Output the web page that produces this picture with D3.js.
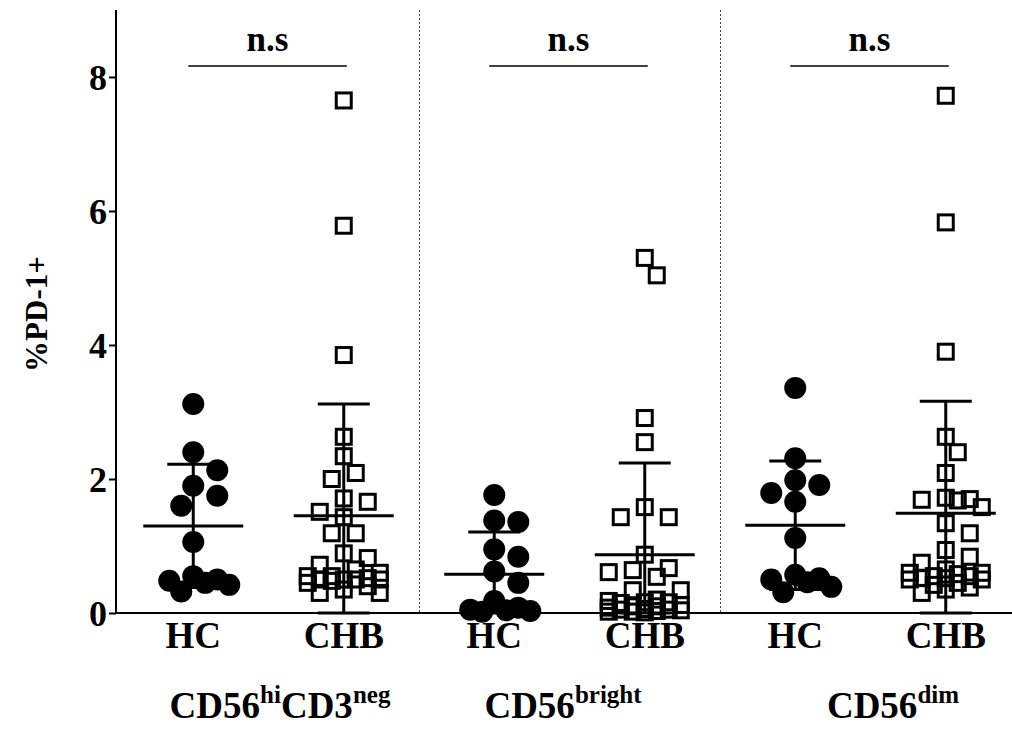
<!DOCTYPE html>
<html>
<head>
<meta charset="utf-8">
<script src="https://cdn.jsdelivr.net/npm/d3@7"></script>
<style>
  body { margin: 0; background: #fff; }
  svg text { font-family: "Liberation Serif", "Times New Roman", serif; font-weight: bold; fill: #000; }
</style>
</head>
<body>
<div id="chart"></div>
<script>
// 1: DATA
const groups = ["HC", "CHB"];
const panels = ["CD56hiCD3neg", "CD56bright", "CD56dim"];

const hcHiNeg  = [3.12, 2.4, 2.13, 1.9, 1.75, 1.6, 1.06, 0.55, 0.5, 0.48, 0.45, 0.42, 0.32];
const chbHiNeg = [7.65, 5.78, 3.85, 2.63, 2.34, 2.09, 2.0, 1.71, 1.66, 1.51, 1.43, 1.19, 1.19,
                  0.89, 0.82, 0.72, 0.65, 0.6, 0.55, 0.55, 0.52, 0.5, 0.5, 0.5, 0.5, 0.48,
                  0.45, 0.4, 0.35, 0.3, 0.3];
const hcBright  = [1.76, 1.38, 1.36, 0.95, 0.84, 0.62, 0.45, 0.18, 0.08, 0.05, 0.03, 0.02, 0.04];
const chbBright = [5.3, 5.04, 2.91, 2.55, 1.58, 1.43, 1.43, 0.87, 0.67, 0.64, 0.61, 0.54, 0.34,
                   0.34, 0.2, 0.18, 0.16, 0.16, 0.15, 0.12, 0.1, 0.1, 0.08, 0.06, 0.05, 0.05,
                   0.04, 0.03, 0.02, 0.02, 0.01];
const hcDim  = [3.36, 2.31, 1.98, 1.91, 1.79, 1.66, 1.12, 0.57, 0.52, 0.5, 0.46, 0.39, 0.31];
const chbDim = [7.72, 5.83, 3.9, 2.63, 2.4, 2.09, 1.72, 1.7, 1.69, 1.68, 1.58, 1.34, 1.19,
                0.94, 0.84, 0.75, 0.65, 0.6, 0.6, 0.58, 0.55, 0.55, 0.52, 0.52, 0.5, 0.5,
                0.45, 0.42, 0.38, 0.35, 0.3];

// mean and SD bars as drawn in the figure, in column order
const meanVals = [1.30, 1.45, 0.58, 0.87, 1.31, 1.49];
const sdVals   = [0.92, 1.67, 0.63, 1.37, 0.96, 1.67];

const yTicks = [0, 2, 4, 6, 8];
const sigLabels = ["n.s", "n.s", "n.s"];

const columns = [hcHiNeg, chbHiNeg, hcBright, chbBright, hcDim, chbDim].map((values, i) => ({
    key: i,
    group: groups[i % 2],
    panel: Math.floor(i / 2),
    values,
    mean: meanVals[i],
    sd: sdVals[i]
}));

// 2: SVG + SCALES
const W = 1012, H = 729;
const svg = d3.select("#chart").append("svg")
    .attr("width", W)
    .attr("height", H);

const axisX = 116, plotTop = 10, plotBottom = 613;

const yScale = d3.scaleLinear()
    .domain([0, 8])
    .range([plotBottom, 77]);

const xScale = d3.scaleBand()
    .domain(columns.map(d => d.key))
    .range([118, 1021]);
const cx = k => xScale(k) + xScale.bandwidth() / 2;

// 3: BEESWARM OFFSETS (simple column scatter like Prism)
function swarm(values, minDist, step, maxSteps) {
    const placed = [];
    const order = values.map((v, i) => i).sort((a, b) => values[b] - values[a]);
    const out = new Array(values.length);
    const nearest = (dx, y) => d3.min(placed, p => Math.hypot(p.dx - dx, p.y - y)) ?? Infinity;
    order.forEach(i => {
        const y = yScale(values[i]);
        let best = 0, bestScore = -1, done = false;
        for (let s = 0; s <= maxSteps && !done; s++) {
            const cands = s === 0 ? [0] : [s * step, -s * step];
            for (const dx of cands) {
                const d = nearest(dx, y);
                if (d >= minDist) { best = dx; done = true; break; }
                if (d > bestScore) { bestScore = d; best = dx; }
            }
        }
        placed.push({ dx: best, y });
        out[i] = { dx: best, y, v: values[i] };
    });
    return out;
}

// 4: AXES
const yAxis = svg.append("g")
    .attr("transform", `translate(${axisX},0)`)
    .call(d3.axisLeft(yScale).tickValues(yTicks).tickSize(7).tickPadding(2));
yAxis.select(".domain").remove();
yAxis.selectAll(".tick line").attr("stroke", "#000").attr("stroke-width", 2);
yAxis.selectAll(".tick text")
    .style("font-size", "36px")
    .attr("dy", "0.34em");

svg.append("line")
    .attr("x1", axisX).attr("x2", axisX)
    .attr("y1", plotTop).attr("y2", plotBottom + 1)
    .attr("stroke", "#000").attr("stroke-width", 2);
svg.append("line")
    .attr("x1", axisX).attr("x2", W)
    .attr("y1", plotBottom).attr("y2", plotBottom)
    .attr("stroke", "#000").attr("stroke-width", 2);

// panel dividers
[2, 4].forEach(k => {
    svg.append("line")
        .attr("x1", xScale(k) + 0.5).attr("x2", xScale(k) + 0.5)
        .attr("y1", plotTop).attr("y2", plotBottom)
        .attr("stroke", "#444").attr("stroke-width", 1)
        .attr("stroke-dasharray", "2,2");
});

// 5: ERROR BARS
const bars = svg.append("g");
columns.forEach(c => {
    const x = cx(c.key);
    const lo = Math.max(0, c.mean - c.sd), hi = c.mean + c.sd;
    bars.append("line")
        .attr("x1", x).attr("x2", x)
        .attr("y1", yScale(lo)).attr("y2", yScale(hi))
        .attr("stroke", "#000").attr("stroke-width", 3);
    [lo, hi].forEach(v => {
        bars.append("line")
            .attr("x1", x - 26).attr("x2", x + 26)
            .attr("y1", yScale(v)).attr("y2", yScale(v))
            .attr("stroke", "#000").attr("stroke-width", 3);
    });
    bars.append("line")
        .attr("x1", x - 50).attr("x2", x + 50)
        .attr("y1", yScale(c.mean)).attr("y2", yScale(c.mean))
        .attr("stroke", "#000").attr("stroke-width", 3);
});

// 6: POINTS
const pts = svg.append("g");
columns.forEach(c => {
    const x = cx(c.key);
    if (c.group === "HC") {
        const pos = swarm(c.values, 22, 12, 3);
        pts.selectAll(null)
            .data(pos)
            .enter()
            .append("circle")
            .attr("cx", d => x + d.dx)
            .attr("cy", d => d.y)
            .attr("r", 11)
            .attr("fill", "#000");
    } else {
        const pos = swarm(c.values, 18, 12, 3);
        pts.selectAll(null)
            .data(pos)
            .enter()
            .append("rect")
            .attr("x", d => x + d.dx - 7.5)
            .attr("y", d => d.y - 7.5)
            .attr("width", 15)
            .attr("height", 15)
            .attr("fill", "none")
            .attr("stroke", "#000")
            .attr("stroke-width", 3);
    }
});

// 7: SIGNIFICANCE BRACKETS
panels.forEach((p, i) => {
    const x1 = cx(i * 2) - 5, x2 = cx(i * 2 + 1) + 3;
    svg.append("line")
        .attr("x1", x1).attr("x2", x2)
        .attr("y1", 66).attr("y2", 66)
        .attr("stroke", "#000").attr("stroke-width", 1.5);
    svg.append("text")
        .attr("x", (x1 + x2) / 2)
        .attr("y", 51)
        .attr("text-anchor", "middle")
        .style("font-size", "35px")
        .text(sigLabels[i]);
});

// 8: LABELS
columns.forEach(c => {
    svg.append("text")
        .attr("x", cx(c.key))
        .attr("y", 648)
        .attr("text-anchor", "middle")
        .style("font-size", "37px")
        .text(c.group);
});

const panelLabels = [
    { x: 280, parts: [["CD56", 0], ["hi", 1], ["CD3", 0], ["neg", 1]] },
    { x: 563, parts: [["CD56", 0], ["bright", 1]] },
    { x: 893, parts: [["CD56", 0], ["dim", 1]] }
];
panelLabels.forEach(pl => {
    const t = svg.append("text")
        .attr("x", pl.x)
        .attr("y", 718)
        .attr("text-anchor", "middle")
        .style("font-size", "37px");
    pl.parts.forEach(([s, sup], j) => {
        t.append("tspan")
            .attr("dy", sup ? -15 : (j === 0 ? 0 : 15))
            .style("font-size", sup ? "25px" : "37px")
            .text(s);
    });
});

svg.append("text")
    .attr("transform", "rotate(-90)")
    .attr("x", -314)
    .attr("y", 47)
    .attr("text-anchor", "middle")
    .style("font-size", "31px")
    .text("%PD-1+");
</script>
</body>
</html>
